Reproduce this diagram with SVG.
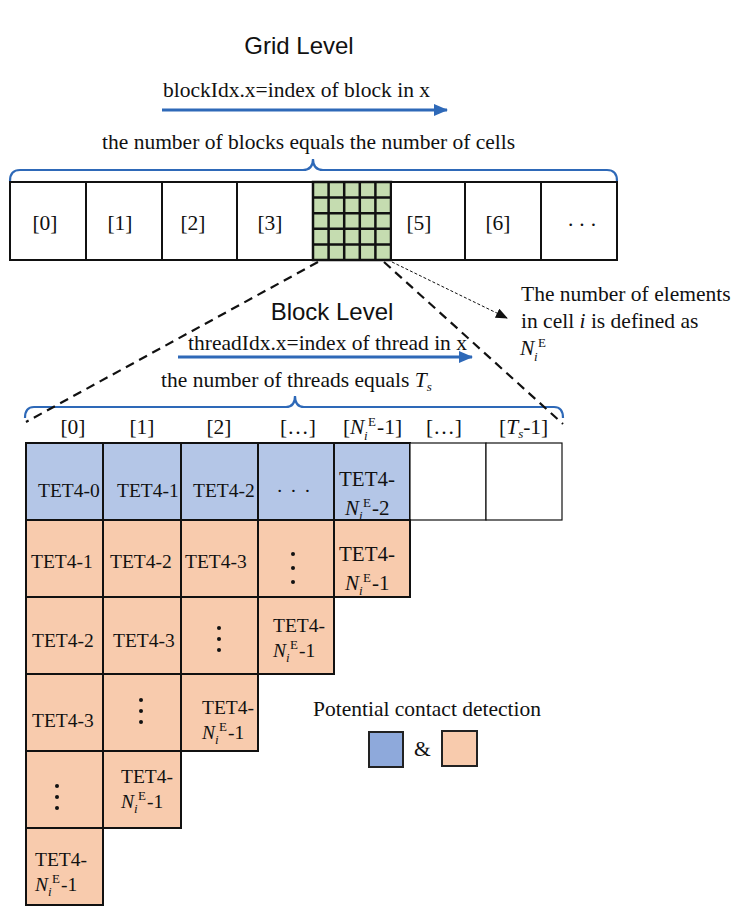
<svg xmlns="http://www.w3.org/2000/svg" width="741" height="924" viewBox="0 0 741 924">
<style>
.t{font-family:"Liberation Serif","Times New Roman",serif;font-size:21.5px;fill:#111}
.c{font-family:"Liberation Serif","Times New Roman",serif;font-size:19.5px;fill:#111}
.h{font-family:"Liberation Sans",Arial,sans-serif;font-size:24px;fill:#111}
.it{font-style:italic}
.sm{font-size:13px}
.box{fill:#fff;stroke:#111;stroke-width:2}
.blue{fill:#B4C6E7;stroke:#111;stroke-width:2}
.org{fill:#F8CBAD;stroke:#111;stroke-width:2}
.wht{fill:#fff;stroke:#111;stroke-width:1.2}
.brace{fill:none;stroke:#2E69B8;stroke-width:2.2}
.arr{stroke:#2E69B8;stroke-width:3;fill:none}
.dash{stroke:#111;stroke-width:2.2;stroke-dasharray:9,6;fill:none}
.dot{fill:#111}
</style>
<defs>
<marker id="ab" markerUnits="userSpaceOnUse" markerWidth="14" markerHeight="12" refX="13" refY="6" orient="auto">
<path d="M0,0 L14,6 L0,12 Z" fill="#2E69B8"/>
</marker>
<marker id="ak" markerUnits="userSpaceOnUse" markerWidth="12" markerHeight="10" refX="11" refY="5" orient="auto">
<path d="M0,0 L12,5 L0,10 Z" fill="#111"/>
</marker>
</defs>

<g id="titles">
<text class="h" x="299" y="54" text-anchor="middle">Grid Level</text>
<text class="t" x="163" y="97">blockIdx.x=index of block in x</text>
<text class="t" x="102" y="149">the number of blocks equals the number of cells</text>
<text class="h" x="332" y="320" text-anchor="middle">Block Level</text>
<text class="t" x="188" y="350">threadIdx.x=index of thread in x</text>
<text class="t" x="161" y="387">the number of threads equals <tspan class="it">T</tspan><tspan class="it sm" dy="4">s</tspan></text>
</g>

<g id="connectors">
<line class="arr" x1="162" y1="110" x2="447" y2="110" marker-end="url(#ab)"/>
<line class="arr" x1="178" y1="357" x2="472" y2="357" marker-end="url(#ab)"/>
<path class="brace" d="M10,181 Q10,170 20,170 L303,170 Q313,170 313,159 Q313,170 323,170 L607,170 Q617,170 617,181"/>
<path class="brace" d="M25,418 Q25,407 34,407 L286,407 Q295,407 295,396 Q295,407 304,407 L554,407 Q563,407 563,418"/>
<line class="dash" x1="318" y1="262" x2="26" y2="422"/>
<line class="dash" x1="384" y1="262" x2="563" y2="424"/>
<line x1="392" y1="262" x2="507" y2="318" stroke="#111" stroke-width="1" stroke-dasharray="3,2" marker-end="url(#ak)"/>
</g>

<g id="grid-row">
<g id="blk0"><rect class="box" x="10" y="182" width="76" height="78"/><text class="t" x="45" y="230" text-anchor="middle">[0]</text></g>
<g id="blk1"><rect class="box" x="86" y="182" width="76" height="78"/><text class="t" x="120" y="230" text-anchor="middle">[1]</text></g>
<g id="blk2"><rect class="box" x="162" y="182" width="75" height="78"/><text class="t" x="193" y="230" text-anchor="middle">[2]</text></g>
<g id="blk3"><rect class="box" x="237" y="182" width="76" height="78"/><text class="t" x="270" y="230" text-anchor="middle">[3]</text></g>
<g id="blk4">
<rect x="313" y="182" width="78" height="78" fill="#C5DCB0" stroke="#111" stroke-width="2.5"/>
<path d="M328.6,182V260M344.2,182V260M359.8,182V260M375.4,182V260M313,197.6H391M313,213.2H391M313,228.8H391M313,244.4H391" stroke="#111" stroke-width="2.5"/>
</g>
<g id="blk5"><rect class="box" x="391" y="182" width="74" height="78"/><text class="t" x="419" y="230" text-anchor="middle">[5]</text></g>
<g id="blk6"><rect class="box" x="465" y="182" width="76" height="78"/><text class="t" x="498" y="230" text-anchor="middle">[6]</text></g>
<g id="blk7"><rect class="box" x="541" y="182" width="76" height="78"/><text class="t" x="585" y="226" text-anchor="middle" letter-spacing="6">...</text></g>
</g>

<g id="note">
<text class="t" x="521" y="301">The number of elements</text>
<text class="t" x="521" y="328">in cell <tspan class="it">i</tspan> is defined as</text>
<text class="t it" x="520" y="355">N</text>
<text class="t sm it" x="534" y="361">i</text>
<text class="t sm" x="538" y="347">E</text>
</g>

<g id="thread-labels">
<text class="t" x="73" y="434" text-anchor="middle">[0]</text>
<text class="t" x="142" y="434" text-anchor="middle">[1]</text>
<text class="t" x="219" y="434" text-anchor="middle">[2]</text>
<text class="t" x="298" y="434" text-anchor="middle">[…]</text>
<text class="t" x="343" y="434">[</text>
<text class="t it" x="350" y="434">N</text>
<text class="t sm it" x="364" y="440">i</text>
<text class="t sm" x="368" y="426">E</text>
<text class="t" x="377" y="434">-1]</text>
<text class="t" x="444" y="434" text-anchor="middle">[…]</text>
<text class="t" x="499" y="434">[<tspan class="it">T</tspan><tspan class="it sm" dy="4">s</tspan><tspan dy="-4">-1]</tspan></text>
</g>

<g id="r0c0"><rect class="blue" x="26" y="443" width="77" height="77"/><text class="c" x="38" y="497">TET4-0</text></g>
<g id="r0c1"><rect class="blue" x="103" y="443" width="78" height="77"/><text class="c" x="117" y="497">TET4-1</text></g>
<g id="r0c2"><rect class="blue" x="181" y="443" width="77" height="77"/><text class="c" x="193" y="497">TET4-2</text></g>
<g id="r0c3"><rect class="blue" x="258" y="443" width="76" height="77"/><text class="c" x="298" y="492" text-anchor="middle" letter-spacing="9">...</text></g>
<g id="r0c4"><rect class="blue" x="334" y="443" width="76" height="77"/><text class="c" x="339" y="486" style="font-size:21px">TET4-</text><text class="c it" x="345" y="515" style="font-size:21px">N</text><text class="c sm it" x="359" y="520">i</text><text class="c sm" x="363" y="507">E</text><text class="c" x="372" y="515" style="font-size:21px">-2</text></g>
<g id="r0c5"><rect class="wht" x="410" y="443" width="76" height="77"/></g>
<g id="r0c6"><rect class="wht" x="486" y="443" width="76" height="77"/></g>

<g id="r1c0"><rect class="org" x="26" y="520" width="77" height="77"/><text class="c" x="31" y="568">TET4-1</text></g>
<g id="r1c1"><rect class="org" x="103" y="520" width="78" height="77"/><text class="c" x="110" y="568">TET4-2</text></g>
<g id="r1c2"><rect class="org" x="181" y="520" width="77" height="77"/><text class="c" x="185" y="568">TET4-3</text></g>
<g id="r1c3"><rect class="org" x="258" y="520" width="76" height="77"/><circle class="dot" cx="293" cy="554" r="2"/><circle class="dot" cx="293" cy="568" r="2"/><circle class="dot" cx="293" cy="582" r="2"/></g>
<g id="r1c4"><rect class="org" x="334" y="520" width="76" height="77"/><text class="c" x="339" y="561" style="font-size:21px">TET4-</text><text class="c it" x="345" y="590" style="font-size:21px">N</text><text class="c sm it" x="359" y="595">i</text><text class="c sm" x="363" y="582">E</text><text class="c" x="372" y="590" style="font-size:21px">-1</text></g>

<g id="r2c0"><rect class="org" x="26" y="597" width="77" height="77"/><text class="c" x="32" y="647">TET4-2</text></g>
<g id="r2c1"><rect class="org" x="103" y="597" width="78" height="77"/><text class="c" x="113" y="647">TET4-3</text></g>
<g id="r2c2"><rect class="org" x="181" y="597" width="77" height="77"/><circle class="dot" cx="219" cy="628" r="2"/><circle class="dot" cx="219" cy="639" r="2"/><circle class="dot" cx="219" cy="650" r="2"/></g>
<g id="r2c3"><rect class="org" x="258" y="597" width="76" height="77"/><text class="c" x="273" y="632">TET4-</text><text class="c it" x="273" y="657">N</text><text class="c sm it" x="286" y="662">i</text><text class="c sm" x="290" y="649">E</text><text class="c" x="299" y="657">-1</text></g>

<g id="r3c0"><rect class="org" x="26" y="674" width="77" height="77"/><text class="c" x="32" y="727">TET4-3</text></g>
<g id="r3c1"><rect class="org" x="103" y="674" width="78" height="77"/><circle class="dot" cx="141" cy="700" r="2"/><circle class="dot" cx="141" cy="711" r="2"/><circle class="dot" cx="141" cy="722" r="2"/></g>
<g id="r3c2"><rect class="org" x="181" y="674" width="77" height="77"/><text class="c" x="202" y="714">TET4-</text><text class="c it" x="202" y="739">N</text><text class="c sm it" x="215" y="744">i</text><text class="c sm" x="219" y="731">E</text><text class="c" x="228" y="739">-1</text></g>

<g id="r4c0"><rect class="org" x="26" y="751" width="77" height="77"/><circle class="dot" cx="57" cy="786" r="2"/><circle class="dot" cx="57" cy="797" r="2"/><circle class="dot" cx="57" cy="808" r="2"/></g>
<g id="r4c1"><rect class="org" x="103" y="751" width="78" height="77"/><text class="c" x="121" y="783">TET4-</text><text class="c it" x="121" y="808">N</text><text class="c sm it" x="134" y="813">i</text><text class="c sm" x="138" y="800">E</text><text class="c" x="147" y="808">-1</text></g>

<g id="r5c0"><rect class="org" x="26" y="828" width="77" height="77"/><text class="c" x="35" y="866">TET4-</text><text class="c it" x="35" y="891">N</text><text class="c sm it" x="48" y="896">i</text><text class="c sm" x="52" y="883">E</text><text class="c" x="61" y="891">-1</text></g>

<g id="legend">
<text class="t" x="313" y="716">Potential contact detection</text>
<rect x="369" y="732" width="34" height="35" fill="#8EA9DB" stroke="#222" stroke-width="2"/>
<text class="t" x="414" y="756">&amp;</text>
<rect x="442" y="731" width="35" height="35" fill="#F8CBAD" stroke="#222" stroke-width="2"/>
</g>
</svg>
